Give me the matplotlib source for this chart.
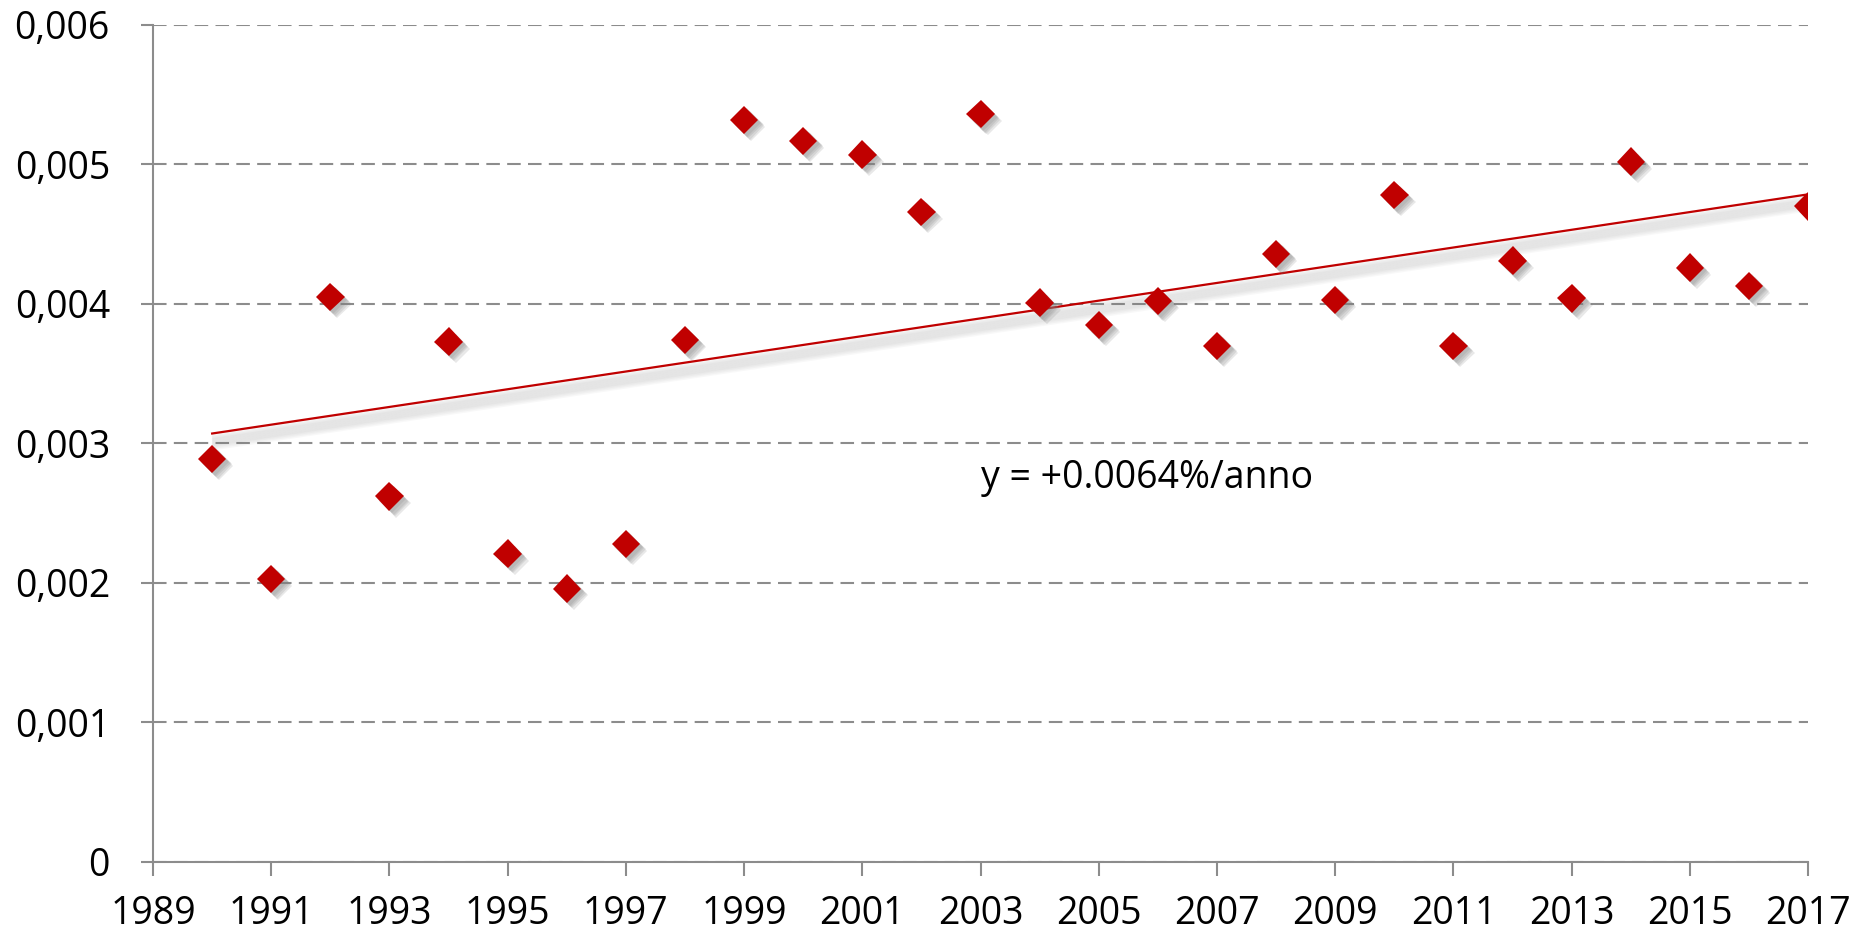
import matplotlib
matplotlib.use("Agg")
import matplotlib.pyplot as plt
import matplotlib.patheffects as pe
import numpy as np
from matplotlib.ticker import FuncFormatter, MultipleLocator, FixedLocator

plt.rcParams["font.family"] = ["Open Sans", "DejaVu Sans"]

# dati
anni = list(range(1990, 2018))
valori = [
    0.00289, 0.00203, 0.00405, 0.00262, 0.00373, 0.00221, 0.00196, 0.00228,
    0.00374, 0.00532, 0.00517, 0.00507, 0.00466, 0.00536, 0.00401, 0.00385,
    0.00402, 0.00370, 0.00436, 0.00403, 0.00478, 0.00370, 0.00431, 0.00404,
    0.00502, 0.00426, 0.00413, 0.00470,
]
tick_anni = list(range(1989, 2018, 2))
etichetta_trend = "y = +0.0064%/anno"

ROSSO = "#C00000"
GRIGIO = "#8C8C8C"

fig = plt.figure(figsize=(18.64, 9.35), dpi=100)
ax = fig.add_axes([0.0821, 0.0781, 0.970 - 0.0821, 0.9733 - 0.0781])

# linea di tendenza (regressione lineare sui dati)
x = np.array(anni, dtype=float)
y = np.array(valori)
m, q = np.polyfit(x, y, 1)
xt = np.array([x[0], x[-1]])
ombra = [
    pe.SimpleLineShadow(offset=(2, -dy), shadow_color="gray", alpha=0.05, linewidth=4)
    for dy in (2, 3, 4, 5, 6, 7, 8, 9, 10)
]
ax.plot(xt, m * xt + q, color=ROSSO, lw=1.6, zorder=3,
        path_effects=ombra + [pe.Normal()])

# punti con ombra sfumata
ombra_punti = [
    pe.SimplePatchShadow(offset=(dx, -dx), shadow_rgbFace="gray", alpha=0.18)
    for dx in (2, 3, 4, 5)
]
ax.plot(anni, valori, linestyle="none", marker="D", markersize=14.5,
        color=ROSSO, markeredgewidth=0, zorder=4,
        path_effects=ombra_punti + [pe.Normal()])

ax.text(2003.0, 0.00275, etichetta_trend, fontsize=27, va="center", ha="left")

ax.set_xlim(1989, 2017)
ax.set_ylim(0, 0.006)
ax.xaxis.set_major_locator(FixedLocator(tick_anni))
ax.yaxis.set_major_locator(MultipleLocator(0.001))
ax.yaxis.set_major_formatter(
    FuncFormatter(lambda v, _: "0" if abs(v) < 1e-12 else f"{v:.3f}".replace(".", ","))
)

ax.grid(axis="y", color=GRIGIO, lw=1.5, linestyle=(0, (6.5, 3.5)))
ax.set_axisbelow(True)
for s in ("top", "right"):
    ax.spines[s].set_visible(False)
for s in ("left", "bottom"):
    ax.spines[s].set_color(GRIGIO)
    ax.spines[s].set_linewidth(1.5)

ax.tick_params(axis="both", direction="out", color=GRIGIO, width=1.5, labelsize=27)
ax.tick_params(axis="x", length=10, pad=14)
ax.tick_params(axis="y", length=9, pad=22)

fig.savefig("out.png", dpi=100)
